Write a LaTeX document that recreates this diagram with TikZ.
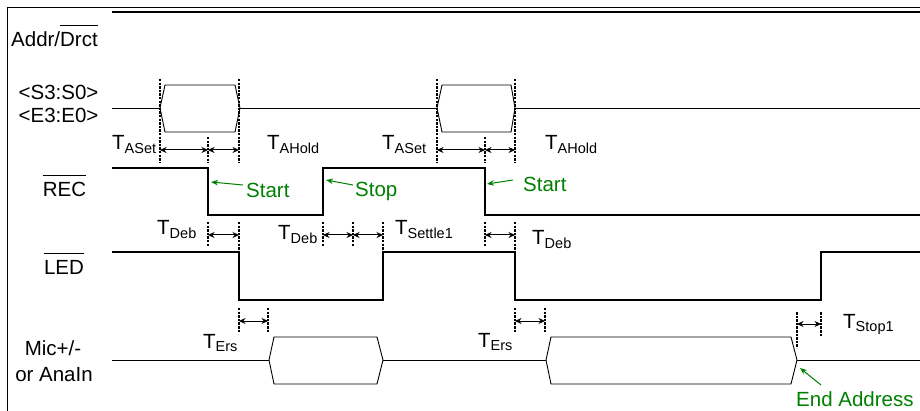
\documentclass[tikz,border=0pt]{standalone}
\usepackage{fontspec}
\setmainfont{Liberation Sans}
\usetikzlibrary{arrows.meta}
\definecolor{sgreen}{RGB}{0,128,0}
\newcommand{\Tsub}[1]{T\raisebox{-3.5pt}{\fontsize{14.5}{14.5}\selectfont #1}}
\newcommand{\ovl}[1]{\leavevmode\vbox{\hrule height 1.1pt\kern 6.5pt\hbox{#1}}}
\begin{document}
\begin{tikzpicture}[x=1pt,y=-1pt,
 sig/.style={line width=1.2pt},
 bus/.style={line width=0.9pt, line join=miter},
 guide/.style={line width=1.6pt, dash pattern=on 2.5pt off 1.1pt},
 dim/.style={line width=1pt,{Stealth[length=6.5pt,width=6pt]}-{Stealth[length=6.5pt,width=6pt]}},
 note/.style={line width=1pt, draw=sgreen, -{Stealth[length=7pt,width=5.5pt]}},
 lbl/.style={font=\fontsize{20.5}{22}\selectfont, inner sep=0pt},
 glbl/.style={lbl, text=sgreen},
]
\useasboundingbox (0,0) rectangle (920,411);
% frame
\draw[line width=1pt] (7.5,411) -- (7.5,7.5) -- (920,7.5);

% signal labels
\node[lbl, anchor=base west] (lAddr) at (11,47) {Addr/\ovl{Drct}};
\node[lbl, anchor=base] (lS) at (58.5,100) {<S3:S0>};
\node[lbl, anchor=base] (lE) at (58.5,123) {<E3:E0>};
\node[lbl, anchor=base] (lREC) at (64.5,197) {\ovl{REC}};
\node[lbl, anchor=base] (lLED) at (64,275) {\ovl{LED}};
\node[lbl, anchor=base] (lMic) at (53,355) {Mic+/-};
\node[lbl, anchor=base] (lAna) at (54,381) {or AnaIn};

% Addr/Drct
\draw[sig] (112,12) -- (920,12);

% S/E bus
\draw[bus] (112,108) -- (160,108);
\draw[bus] (160,108) -- (165,85) -- (235,85) -- (240,108) -- (235,132) -- (165,132) -- cycle;
\draw[bus] (240,108) -- (437,108);
\draw[bus] (437,108) -- (442,85) -- (511,85) -- (515,108) -- (511,132) -- (442,132) -- cycle;
\draw[bus] (515,108) -- (920,108);

% REC
\draw[sig] (112,168) -- (208,168) -- (208,215) -- (323,215) -- (323,168) -- (485,168) -- (485,215) -- (920,215);

% LED
\draw[sig] (112,252) -- (239,252) -- (239,300) -- (383,300) -- (383,252) -- (515,252) -- (515,300) -- (821,300) -- (821,252) -- (920,252);

% Mic bus
\draw[bus] (112,360) -- (269,360);
\draw[bus] (269,360) -- (274,337) -- (377,337) -- (383,360) -- (377,384) -- (274,384) -- cycle;
\draw[bus] (383,360) -- (546,360);
\draw[bus] (546,360) -- (551,337) -- (791,337) -- (797,360) -- (791,384) -- (551,384) -- cycle;
\draw[bus] (797,360) -- (920,360);

% guides: address setup/hold
\draw[guide] (160,79) -- (160,163);
\draw[guide] (208,137) -- (208,163);
\draw[guide] (239,79) -- (239,163);
\draw[dim] (160,150) -- (208,150);
\draw[dim] (208,150) -- (239,150);
\draw[guide] (437,79) -- (437,163);
\draw[guide] (485,137) -- (485,163);
\draw[guide] (515,79) -- (515,163);
\draw[dim] (437,150) -- (485,150);
\draw[dim] (485,150) -- (515,150);

% guides: debounce
\draw[guide] (208,222) -- (208,247);
\draw[guide] (239,222) -- (239,250);
\draw[dim] (208,235) -- (239,235);
\draw[guide] (323,222) -- (323,247);
\draw[guide] (353,222) -- (353,247);
\draw[guide] (383,222) -- (383,250);
\draw[dim] (323,235) -- (353,235);
\draw[dim] (353,235) -- (383,235);
\draw[guide] (485,222) -- (485,247);
\draw[guide] (515,222) -- (515,250);
\draw[dim] (485,235) -- (515,235);

% guides: erase / stop
\draw[guide] (239,308) -- (239,333);
\draw[guide] (268,308) -- (268,333);
\draw[dim] (239,321) -- (268,321);
\draw[guide] (515,308) -- (515,333);
\draw[guide] (545,308) -- (545,333);
\draw[dim] (515,321) -- (545,321);
\draw[guide] (797,312) -- (797,348);
\draw[guide] (821,312) -- (821,337);
\draw[dim] (797,324) -- (821,324);

% timing labels
\node[lbl, anchor=base west] (tAS1) at (112,150) {\Tsub{ASet}};
\node[lbl, anchor=base west] (tAH1) at (267,150) {\Tsub{AHold}};
\node[lbl, anchor=base west] (tAS2) at (382,150) {\Tsub{ASet}};
\node[lbl, anchor=base west] (tAH2) at (545,150) {\Tsub{AHold}};
\node[lbl, anchor=base west] (tD1) at (157,235) {\Tsub{Deb}};
\node[lbl, anchor=base west] (tD2) at (278,240) {\Tsub{Deb}};
\node[lbl, anchor=base west] (tS1) at (395,235) {\Tsub{Settle1}};
\node[lbl, anchor=base west] (tD3) at (532,245) {\Tsub{Deb}};
\node[lbl, anchor=base west] (tE1) at (203,348) {\Tsub{Ers}};
\node[lbl, anchor=base west] (tE2) at (478,347) {\Tsub{Ers}};
\node[lbl, anchor=base west] (tSt) at (843,328) {\Tsub{Stop1}};

% green annotations
\node[glbl, anchor=base west] (gStart1) at (246,198) {Start};
\node[glbl, anchor=base west] (gStop) at (355,197) {Stop};
\node[glbl, anchor=base west] (gStart2) at (523,192) {Start};
\node[glbl, anchor=base west] (gEnd) at (796,406) {End Address};
\coordinate (aS1) at (211,182);
\coordinate (aSt) at (326,180);
\coordinate (aS2) at (487,184);
\coordinate (aEnd) at (800,368);
\draw[note] (243,185) -- (aS1);
\draw[note] (353,185) -- (aSt);
\draw[note] (513,180) -- (aS2);
\draw[note] (821,385) -- (aEnd);
\end{tikzpicture}
\end{document}
